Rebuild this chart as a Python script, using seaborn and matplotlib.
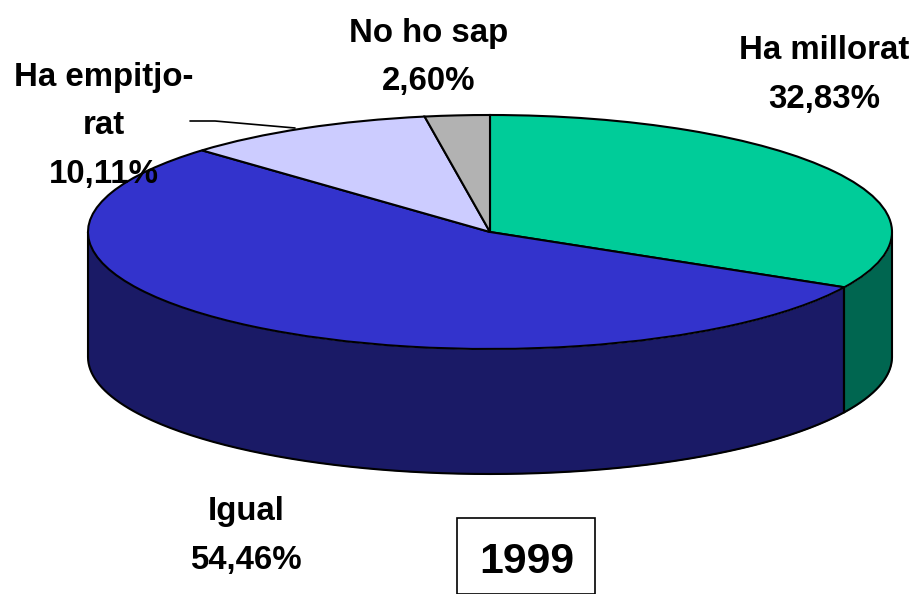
import numpy as np
import matplotlib
matplotlib.use("Agg")
import matplotlib.pyplot as plt
from matplotlib.patches import Rectangle
import seaborn as sns

# data
labels = ["Ha millorat", "Igual", "Ha empitjo-\nrat", "No ho sap"]
values = [32.83, 54.46, 10.11, 2.60]
top_colors = ["#00CC99", "#3333CC", "#CCCCFF", "#B2B2B2"]
side_colors = ["#006650", "#1A1A66", "#66667F", "#595959"]
year = "1999"

W, H = 915, 594
cx, cy, rx, ry = 490, 232, 402, 117
depth = 125 / ry

sns.set_theme(style="white")
plt.rcParams['font.family'] = ['Liberation Sans', 'DejaVu Sans']

fig = plt.figure(figsize=(W / 100, H / 100), dpi=100, facecolor="white")
ax = fig.add_axes([0, 0, 1, 1])


def px(x, y):
    # reference pixels to figure fraction
    return x / W, 1 - y / H


# sides first, only the front half of each slice shows
edges = 90 - np.cumsum([0] + values) * 3.6
for i in range(len(values)):
    a0, a1 = edges[i + 1], edges[i]
    lo, hi = max(a0, -180), min(a1, 0)
    if lo >= hi:
        continue
    t = np.radians(np.linspace(lo, hi, 200))
    x, y = np.cos(t), np.sin(t)
    ax.fill_between(x, y, y - depth, color=side_colors[i], lw=0, zorder=1)
    ax.plot(x, y - depth, color="black", lw=1.5, zorder=2)
    ax.plot([x[0], x[0]], [y[0], y[0] - depth], color="black", lw=1.5, zorder=2)
    ax.plot([x[-1], x[-1]], [y[-1], y[-1] - depth], color="black", lw=1.5, zorder=2)

wedges, _ = ax.pie(values, colors=top_colors, startangle=90, counterclock=False,
                   wedgeprops=dict(edgecolor="black", linewidth=1.5, zorder=3))
for w in wedges:
    w.set_zorder(3)

ax.set_aspect("auto")
ax.set_xlim(-cx / rx, (W - cx) / rx)
ax.set_ylim((cy - H) / ry, cy / ry)
ax.axis("off")

# leader line for the lavender slice
xs, ys = zip(*[px(190, 121), px(215, 121), px(295, 128)])
fig.add_artist(plt.Line2D(xs, ys, color="black", lw=1.2, zorder=4))

label_pos = [(824, 75), (246, 536), (104, 126), (429, 57.5)]
for name, v, (lx, ly) in zip(labels, values, label_pos):
    txt = name + "\n" + f"{v:.2f}".replace(".", ",") + "%"
    fig.text(*px(lx, ly), txt, ha="center", va="center", fontsize=23.8,
             fontweight="bold", color="black", linespacing=1.72, zorder=5)

# year box
fig.add_artist(Rectangle(px(457, 594), 138 / W, 76 / H, transform=fig.transFigure,
                         facecolor="white", edgecolor="black", lw=1.2, zorder=5))
fig.text(*px(527, 562), year, ha="center", va="center", fontsize=30.8,
         fontweight="bold", color="black", zorder=6)

fig.savefig("out.png", dpi=100)
